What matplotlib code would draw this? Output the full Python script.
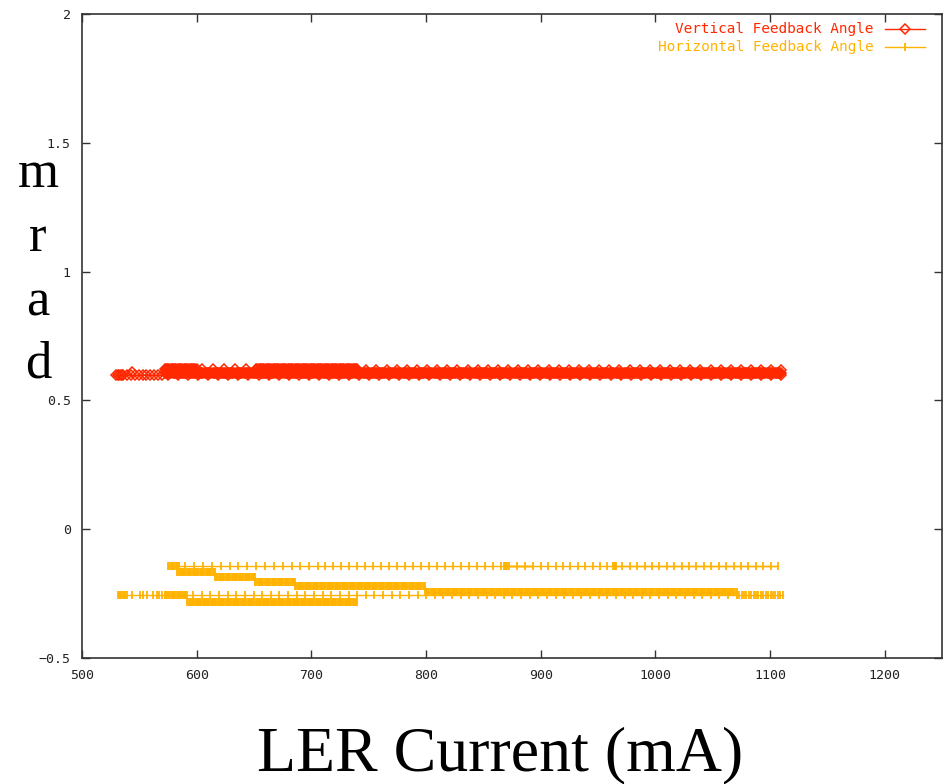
import numpy as np
import matplotlib
matplotlib.use("Agg")
import matplotlib.pyplot as plt

# Feedback angle (mrad) versus LER beam current (mA).
# Each run is a stretch of readings at a constant angle while the current ramps:
# (group, first current, last current, number of readings, angle).
# Runs sharing a group are joined into one connected trace.
ver_group = [0, 0, 0, 1, 2, 3, 3, 3, 3]
ver_start = [530, 539, 575, 544, 572, 572, 605, 652, 748]
ver_end   = [536, 570, 1110, 544, 1110, 600, 643, 740, 1110]
ver_count = [6, 10, 62, 1, 540, 28, 5, 88, 42]
ver_angle = [0.597, 0.597, 0.597, 0.612, 0.607, 0.620, 0.620, 0.620, 0.618]

hor_group = [0, 0, 0, 0, 0, 0,
             1, 1, 1, 1, 1, 1,
             2, 2, 2, 2, 2, 2, 2, 2, 2, 2, 2,
             3]
hor_start = [575, 590, 712, 868, 900, 963,
             583, 616, 651, 686, 799, 1071,
             531, 544, 551, 553, 557, 562, 565, 567, 570, 572, 597,
             592]
hor_end   = [585, 706, 893, 871, 1107, 966,
             616, 651, 686, 799, 1071, 1111,
             539, 544, 551, 553, 557, 562, 565, 567, 570, 592, 1071,
             740]
hor_count = [10, 16, 27, 4, 33, 4,
             33, 35, 35, 113, 270, 20,
             8, 1, 1, 1, 1, 1, 1, 1, 1, 20, 64,
             148]
hor_angle = [-0.142, -0.142, -0.142, -0.142, -0.142, -0.142,
             -0.168, -0.184, -0.206, -0.219, -0.245, -0.256,
             -0.256, -0.256, -0.256, -0.256, -0.256, -0.256, -0.256, -0.256, -0.256, -0.256, -0.256,
             -0.283]

x_ticks = [500, 600, 700, 800, 900, 1000, 1100, 1200]
y_ticks = [-0.5, 0, 0.5, 1, 1.5, 2]

RED = "#ff2800"
ORANGE = "#ffb300"
MONO = "DejaVu Sans Mono"
SERIF = "Liberation Serif"


def traces(groups, starts, ends, counts, angles):
    out = {}
    for g, a, b, n, y in zip(groups, starts, ends, counts, angles):
        xs = np.linspace(a, b, n)
        out.setdefault(g, ([], []))
        out[g][0].extend(xs)
        out[g][1].extend([y] * n)
    return [out[k] for k in sorted(out)]


fig = plt.figure(figsize=(9.46, 7.84), dpi=100)
ax = fig.add_axes([82 / 946, 126 / 784, 860 / 946, 644 / 784])

ver_style = dict(color=RED, lw=1.0, marker="D", ms=4.8, mfc="none", mew=1.1)
hor_style = dict(color=ORANGE, lw=1.0, marker="|", ms=6.2, mew=1.3)

for xs, ys in traces(ver_group, ver_start, ver_end, ver_count, ver_angle):
    ax.plot(xs, ys, **ver_style)
for xs, ys in traces(hor_group, hor_start, hor_end, hor_count, hor_angle):
    ax.plot(xs, ys, **hor_style)

ax.set_xlim(500, 1250)
ax.set_ylim(-0.5, 2)
ax.set_xticks(x_ticks)
ax.set_yticks(y_ticks)
ax.set_xticklabels([str(v) for v in x_ticks], family=MONO, fontsize=9.5, color="#222222")
ax.set_yticklabels(["\u22120.5", "0", "0.5", "1", "1.5", "2"], family=MONO, fontsize=9.5, color="#222222")
ax.tick_params(direction="in", top=True, right=True, length=6, width=1.0,
               color="#333333", pad=8)
for sp in ax.spines.values():
    sp.set_linewidth(1.2)
    sp.set_color("#333333")

# Key in the upper right corner
key_x_text = 0.920
key_line = [0.934, 0.980]
for label, yk, style in [("Vertical Feedback Angle", 0.977, ver_style),
                         ("Horizontal Feedback Angle", 0.949, hor_style)]:
    ax.text(key_x_text, yk, label, transform=ax.transAxes, ha="right", va="center",
            family=MONO, fontsize=10.4, color=style["color"])
    ax.plot(key_line, [yk, yk], transform=ax.transAxes, color=style["color"],
            lw=style["lw"], clip_on=False)
    ax.plot([np.mean(key_line)], [yk], transform=ax.transAxes, clip_on=False,
            **{k: v for k, v in style.items() if k != "lw"}, lw=0)

# Axis titles
fig.text(500 / 946, (784 - 770) / 784, "LER Current (mA)", family=SERIF,
         fontsize=46, ha="center", va="baseline", color="black")
for letter, base in zip("mrad", [187, 251, 315, 378]):
    fig.text(38 / 946, (784 - base) / 784, letter, family=SERIF, fontsize=38,
             ha="center", va="baseline", color="black")

fig.savefig("out.png", dpi=100)
